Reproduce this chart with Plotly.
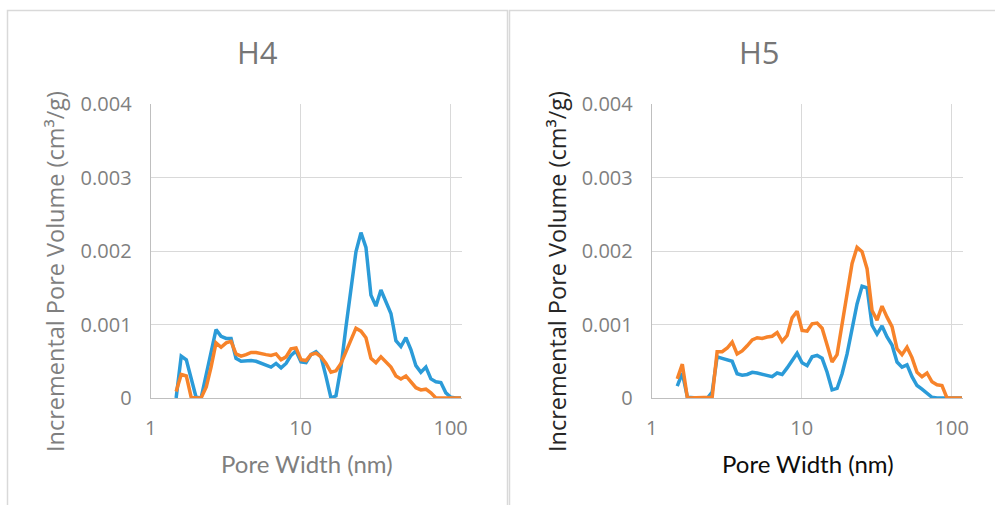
import plotly.graph_objects as go

# Pore width (nm) at each data point (shared by both samples)
pore_width = [1.48, 1.60, 1.73, 1.86, 2.01, 2.17, 2.35, 2.53, 2.73, 2.95,
              3.19, 3.44, 3.71, 4.01, 4.33, 4.68, 5.05, 5.45, 5.88, 6.35,
              6.86, 7.41, 8.00, 8.63, 9.32, 10.06, 10.87, 11.73, 12.67, 13.68,
              14.77, 15.94, 17.21, 18.59, 20.07, 21.67, 23.39, 25.26, 27.27, 29.44,
              31.79, 34.32, 37.06, 40.01, 43.20, 46.64, 50.36, 54.37, 58.70, 63.38,
              68.43, 73.89, 79.77, 86.13, 92.99, 100.4, 108.4, 117.0]

# H4 (values in 1e-3 cm3/g)
h4_blue = [0.00, 0.57, 0.52, 0.27, 0.01, 0.00, 0.33, 0.65, 0.93, 0.84,
           0.81, 0.81, 0.54, 0.50, 0.51, 0.51, 0.50, 0.47, 0.45, 0.42,
           0.47, 0.41, 0.47, 0.58, 0.64, 0.49, 0.48, 0.59, 0.63, 0.56,
           0.29, 0.00, 0.03, 0.42, 0.97, 1.51, 1.99, 2.25, 2.05, 1.40,
           1.25, 1.47, 1.31, 1.15, 0.78, 0.70, 0.82, 0.66, 0.44, 0.35,
           0.42, 0.26, 0.22, 0.21, 0.07, 0.01, 0.00, 0.00]
h4_orange = [0.09, 0.32, 0.30, 0.02, 0.00, 0.00, 0.15, 0.42, 0.75, 0.69,
             0.75, 0.77, 0.60, 0.57, 0.59, 0.62, 0.62, 0.60, 0.59, 0.58,
             0.60, 0.52, 0.56, 0.67, 0.68, 0.52, 0.51, 0.59, 0.61, 0.56,
             0.47, 0.35, 0.37, 0.47, 0.63, 0.79, 0.95, 0.91, 0.82, 0.54,
             0.48, 0.56, 0.49, 0.42, 0.30, 0.26, 0.30, 0.22, 0.14, 0.11,
             0.12, 0.07, 0.00, 0.00, 0.00, 0.00, 0.00, 0.00]

# H5 (values in 1e-3 cm3/g)
h5_blue = [0.16, 0.34, 0.01, 0.00, 0.00, 0.00, 0.00, 0.08, 0.56, 0.54,
           0.52, 0.50, 0.33, 0.31, 0.32, 0.35, 0.34, 0.32, 0.31, 0.29,
           0.34, 0.32, 0.41, 0.52, 0.61, 0.48, 0.44, 0.56, 0.58, 0.54,
           0.35, 0.11, 0.13, 0.33, 0.60, 0.94, 1.28, 1.52, 1.50, 0.99,
           0.87, 0.98, 0.83, 0.72, 0.49, 0.42, 0.45, 0.29, 0.17, 0.12,
           0.07, 0.01, 0.00, 0.00, 0.00, 0.00, 0.00, 0.00]
h5_orange = [0.26, 0.46, 0.00, 0.00, 0.00, 0.00, 0.00, 0.01, 0.63, 0.63,
             0.68, 0.76, 0.60, 0.64, 0.71, 0.79, 0.82, 0.81, 0.83, 0.84,
             0.89, 0.77, 0.85, 1.09, 1.18, 0.92, 0.91, 1.01, 1.02, 0.95,
             0.72, 0.49, 0.59, 1.01, 1.42, 1.83, 2.05, 1.99, 1.76, 1.19,
             1.06, 1.25, 1.10, 0.97, 0.67, 0.59, 0.69, 0.55, 0.35, 0.29,
             0.34, 0.22, 0.18, 0.17, 0.00, 0.00, 0.00, 0.00]

titles = ["H4", "H5"]
x_title = "Pore Width (nm)"
y_title = "Incremental Pore Volume (cm³/g)"
y_tickvals = [0, 0.001, 0.002, 0.003, 0.004]
y_ticktext = ["0", "0.001", "0.002", "0.003", "0.004"]
x_tickvals = [1, 10, 100]
x_ticktext = ["1", "10", "100"]

BLUE = "#2B9BD8"
ORANGE = "#F7832A"
GRID = "#D9D9D9"
TICK = "#7F7F7F"

fig = go.Figure()
for i, (b, o) in enumerate([(h4_blue, h4_orange), (h5_blue, h5_orange)]):
    xa = "x" if i == 0 else "x2"
    ya = "y" if i == 0 else "y2"
    fig.add_trace(go.Scatter(x=pore_width, y=[v * 1e-3 for v in b], mode="lines",
                             line=dict(color=BLUE, width=3.5), xaxis=xa, yaxis=ya,
                             showlegend=False))
    fig.add_trace(go.Scatter(x=pore_width, y=[v * 1e-3 for v in o], mode="lines",
                             line=dict(color=ORANGE, width=3.5), xaxis=xa, yaxis=ya,
                             showlegend=False))

W, H = 995, 505

def xdom(left_px):
    return [left_px / W, (left_px + 311.7) / W]

ydom = [(H - 398) / H, (H - 104) / H]

def xaxis_cfg(dom):
    return dict(domain=dom, type="log", range=[0, 2.078], automargin=False,
                tickvals=x_tickvals, ticktext=x_ticktext,
                tickfont=dict(family="Open Sans", size=20, color=TICK),
                showgrid=True, gridcolor=GRID, gridwidth=1,
                showline=True, linecolor="#BFBFBF", linewidth=1,
                zeroline=False, ticks="", ticklabelstandoff=12)

def yaxis_cfg(dom, anchor):
    return dict(domain=dom, anchor=anchor, range=[0, 0.004], automargin=False,
                tickvals=y_tickvals, ticktext=y_ticktext,
                tickfont=dict(family="Open Sans", size=20, color=TICK),
                showgrid=True, gridcolor=GRID, gridwidth=1,
                showline=True, linecolor="#BFBFBF", linewidth=1,
                zeroline=False, ticks="", ticklabelstandoff=14)

def ann(text, x, y, size, color, family="Open Sans", angle=0):
    return dict(text=text, x=x / W, y=(H - y) / H, xref="paper", yref="paper",
                showarrow=False, textangle=angle,
                font=dict(family=family, size=size, color=color),
                xanchor="center", yanchor="middle")

fig.update_layout(
    width=W, height=H,
    margin=dict(l=0, r=0, t=0, b=0, autoexpand=False),
    paper_bgcolor="white", plot_bgcolor="white",
    xaxis=xaxis_cfg(xdom(150.6)) | dict(anchor="y"),
    yaxis=yaxis_cfg(ydom, "x"),
    xaxis2=xaxis_cfg(xdom(651.7)) | dict(anchor="y2"),
    yaxis2=yaxis_cfg(ydom, "x2"),
    shapes=[
        dict(type="rect", xref="paper", yref="paper",
             x0=7.5 / W, x1=507.5 / W, y0=-0.1, y1=(H - 10.5) / H,
             line=dict(color="#D9D9D9", width=1.5), layer="below"),
        dict(type="rect", xref="paper", yref="paper",
             x0=509.5 / W, x1=1.05, y0=-0.1, y1=(H - 10.5) / H,
             line=dict(color="#D9D9D9", width=1.5), layer="below"),
    ],
    annotations=[
        ann(titles[0], 257, 52, 31, "#767676"),
        ann(titles[1], 759, 52, 31, "#767676"),
        ann(x_title, 307, 463, 24, "#7F7F7F", family="Lato"),
        ann(x_title, 808, 463, 24, "#0D0D0D", family="Lato"),
        ann(y_title, 55, 272, 23.5, "#7F7F7F", angle=-90),
        ann(y_title, 557, 272, 23.5, "#262626", angle=-90),
    ],
)

fig.write_html("out.html")
